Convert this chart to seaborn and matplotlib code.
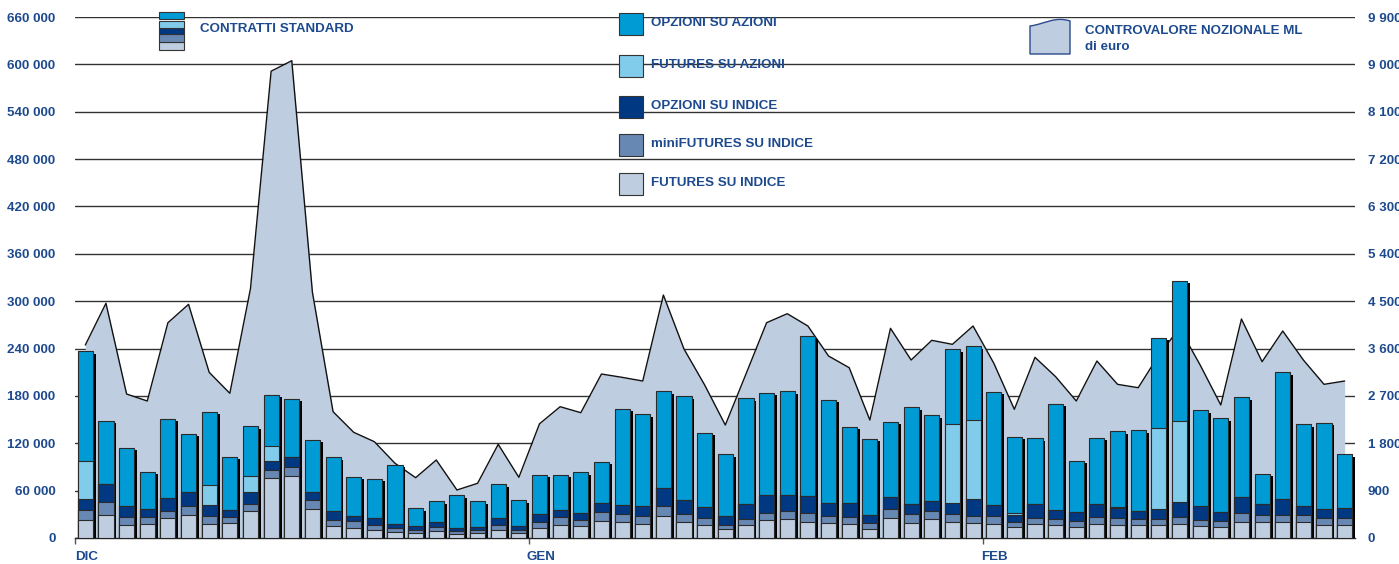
import numpy as np
import seaborn as sns
import matplotlib.pyplot as plt
from matplotlib.patches import Rectangle, PathPatch
from matplotlib.path import Path
from matplotlib.ticker import FuncFormatter

# contratti standard per giornata (dic, gen, feb)
futures_indice = [23200, 29100, 16500, 17700, 25800, 29100, 17700, 19000, 34200, 76000, 78500,
                  36700, 15200, 13100, 10600, 8000, 6800, 8900, 5100, 6300, 10600, 6800,
                  13100, 16900, 15200, 21100, 19800, 17700, 27400, 19800, 16900, 11400, 16900,
                  22400, 24100, 19800, 19000, 17300, 11800, 25300, 19400, 23600, 19800, 18600,
                  17300, 13500, 17300, 16900, 13900, 17300, 16000, 16000, 16000, 17700, 14800,
                  13500, 20700, 20700, 20300, 19800, 16500, 16500]
minifutures_indice = [12300, 16900, 10100, 8900, 8800, 11000, 9700, 7200, 9300, 10600, 11900,
                      11900, 7200, 8000, 5400, 4200, 3800, 4600, 3800, 3400, 6300, 3800,
                      7600, 9700, 8000, 11800, 10600, 9700, 12700, 10200, 8400, 5100, 7200,
                      9300, 10500, 12300, 8400, 8900, 7200, 11400, 11000, 11000, 11000, 8800,
                      10600, 6800, 8500, 6700, 7600, 9700, 8900, 7600, 8100, 8900, 8000,
                      8000, 10600, 8400, 9300, 8900, 9300, 8400]
opzioni_indice = [14300, 22400, 13900, 9700, 16100, 18200, 14000, 9300, 14800, 11400, 11800,
                  10100, 11400, 7200, 9300, 5500, 5000, 6800, 3300, 3800, 8400, 5000,
                  10100, 8900, 8900, 11400, 11800, 12700, 22800, 18600, 13600, 11400, 19000,
                  22400, 20300, 20700, 16900, 17700, 9700, 14800, 12700, 12700, 13100, 22000,
                  13900, 8800, 17300, 11900, 11400, 16100, 12700, 11000, 13100, 19400, 17700,
                  11400, 20200, 13600, 19400, 12300, 10500, 13500]
futures_azioni = [47700, 0, 0, 0, 0, 0, 25700, 0, 20700, 18600, 0,
                  0, 0, 0, 0, 0, 0, 0, 0, 0, 0, 0,
                  0, 0, 0, 0, 0, 0, 0, 0, 0, 0, 0,
                  0, 0, 0, 0, 0, 0, 0, 0, 0, 100100, 100500,
                  0, 3000, 0, 0, 0, 0, 1300, 0, 102200, 101800, 0,
                  0, 0, 0, 0, 0, 0, 0]
opzioni_azioni = [139000, 79800, 73500, 47700, 100100, 73500, 93000, 67500, 62500, 64600, 74300,
                  65500, 68400, 49400, 49400, 74800, 22000, 26200, 41800, 33000, 42700, 32100,
                  49000, 44300, 51100, 52400, 121200, 116600, 122900, 130900, 94500, 78100, 133800,
                  130000, 130900, 202700, 130900, 97100, 96700, 95900, 122400, 108100, 95000, 92900,
                  143200, 96300, 83200, 134300, 64600, 84000, 96200, 101800, 114000, 178200, 121200,
                  118700, 126700, 38800, 160900, 103000, 109400, 67600]
# controvalore nozionale, milioni di euro
controvalore = [3667, 4460, 2736, 2603, 4090, 4440, 3148, 2749, 4740, 8870, 9070,
                4670, 2400, 2008, 1830, 1420, 1146, 1482, 912, 1039, 1780, 1153,
                2170, 2495, 2381, 3116, 3053, 2983, 4617, 3590, 2907, 2147, 3116,
                4091, 4262, 4028, 3458, 3236, 2242, 3984, 3382, 3756, 3680, 4028,
                3325, 2445, 3433, 3065, 2603, 3363, 2920, 2856, 3477, 3990, 3287,
                2527, 4161, 3350, 3933, 3382, 2920, 2983]
months = ["DIC", "GEN", "FEB"]
month_first_day = [0, 22, 44]

serie_names = ["FUTURES SU INDICE", "miniFUTURES SU INDICE", "OPZIONI SU INDICE",
               "FUTURES SU AZIONI", "OPZIONI SU AZIONI"]
colors = ["#bfcde0", "#6888b4", "#003882", "#82cceb", "#009bd5"]
text_col = "#1d4a8e"
area_col = "#bfcde0"

sns.set_style("white")
plt.rcParams["font.family"] = ["Liberation Sans", "DejaVu Sans"]
plt.rcParams["font.weight"] = "bold"
FS = 9.6

W, H = 1399, 564
fig = plt.figure(figsize=(W / 100, H / 100), dpi=100)
ax_area = fig.add_axes([75 / W, 26 / H, 1280 / W, 521 / H])
ax_bar = ax_area.twinx()

x = np.arange(len(controvalore))

# area (right axis) behind bars
ax_area.fill_between(x, controvalore, color=area_col, linewidth=0, zorder=1)
sns.lineplot(x=x, y=controvalore, ax=ax_area, color="#111111", linewidth=1.0, zorder=2)
ax_area.set_ylim(0, 9900)
ax_area.set_yticks(np.arange(0, 9901, 900))
ax_area.grid(axis="y", color="#333333", linewidth=1.0)
ax_area.grid(axis="x", visible=False)
ax_area.set_axisbelow(True)

# stacked bars, drawn as cumulative totals from top to bottom
stack = np.array([futures_indice, minifutures_indice, opzioni_indice, futures_azioni, opzioni_azioni])
cum = np.cumsum(stack, axis=0)
bw = 0.73
sns.barplot(x=x + 0.14, y=cum[-1] - 2800, native_scale=True, color="black", width=bw,
            linewidth=0, errorbar=None, ax=ax_bar, saturation=1)
for i in range(4, -1, -1):
    sns.barplot(x=x, y=cum[i], native_scale=True, color=colors[i], width=bw,
                edgecolor="#2a2a2a", linewidth=0.8, errorbar=None, ax=ax_bar, saturation=1)
ax_bar.set_ylim(0, 660000)
ax_bar.set_yticks(np.arange(0, 660001, 60000))
ax_bar.set_xlim(-0.5, len(x) - 0.5)
ax_bar.set_xlabel("")
ax_bar.set_ylabel("")

# axes cosmetics
fmt = FuncFormatter(lambda v, p: f"{v:,.0f}".replace(",", " "))
ax_bar.yaxis.tick_left()
ax_area.yaxis.tick_right()
ax_bar.yaxis.set_major_formatter(fmt)
ax_area.yaxis.set_major_formatter(fmt)
ax_bar.tick_params(axis="y", length=0, pad=14, labelsize=FS, labelcolor=text_col)
ax_area.tick_params(axis="y", length=0, pad=9, labelsize=FS, labelcolor=text_col)
for lab in ax_bar.get_yticklabels() + ax_area.get_yticklabels():
    lab.set_fontweight("bold")
for sp in ["left", "right", "top"]:
    ax_area.spines[sp].set_visible(False)
for sp in ax_bar.spines.values():
    sp.set_visible(False)
ax_area.spines["bottom"].set_color("#222222")
ax_area.spines["bottom"].set_linewidth(1.0)
ax_area.set_xticks([m - 0.5 for m in month_first_day])
ax_area.set_xticklabels([])
ax_area.tick_params(axis="x", length=4, width=1, color="#555555", bottom=True)
ax_area.set_xlim(-0.5, len(x) - 0.5)
for m, name in zip(month_first_day, months):
    ax_area.text(m - 0.62 if m else m - 0.5, -0.037, name, transform=ax_area.get_xaxis_transform(),
                 ha="left", va="center", fontsize=FS, fontweight="bold", color=text_col)


def fx(px):
    return px / W


def fy(py):
    return 1 - py / H


def box(x0, y0, x1, y1, fc, ec="#333333", lw=0.8):
    fig.add_artist(Rectangle((fx(x0), fy(y1)), fx(x1) - fx(x0), fy(y0) - fy(y1),
                             transform=fig.transFigure, facecolor=fc, edgecolor=ec, linewidth=lw))


def label(px, py, s):
    fig.text(fx(px), fy(py), s, ha="left", va="center", fontsize=FS, fontweight="bold", color=text_col)


# legend: contratti standard (stacked swatch)
sw = [(42.3, 50), (34.3, 41.7), (28.3, 34.3), (21, 28.3), (12.3, 19.3)]
for (t, b), c in zip(sw, colors):
    box(159, t, 184, b, c)
label(200, 29.5, "CONTRATTI STANDARD")

# legend: series
rows = [173, 134, 96, 55, 12.7]
for r, c, n in zip(rows, colors, serie_names):
    box(619, r, 643, r + 22, c)
    label(651, r + 10, n)

# legend: area icon
verts = [(1030, 54), (1030, 26), (1045, 24), (1055, 16), (1070, 21), (1070, 54), (1030, 54)]
codes = [Path.MOVETO, Path.LINETO, Path.CURVE4, Path.CURVE4, Path.CURVE4, Path.LINETO, Path.CLOSEPOLY]
path = Path([(fx(a), fy(b)) for a, b in verts], codes)
fig.add_artist(PathPatch(path, transform=fig.transFigure, facecolor=area_col, edgecolor="#2a4b8c", linewidth=1))
label(1085, 31, "CONTROVALORE NOZIONALE ML")
label(1085, 47.5, "di euro")

fig.savefig("out.png", dpi=100)
